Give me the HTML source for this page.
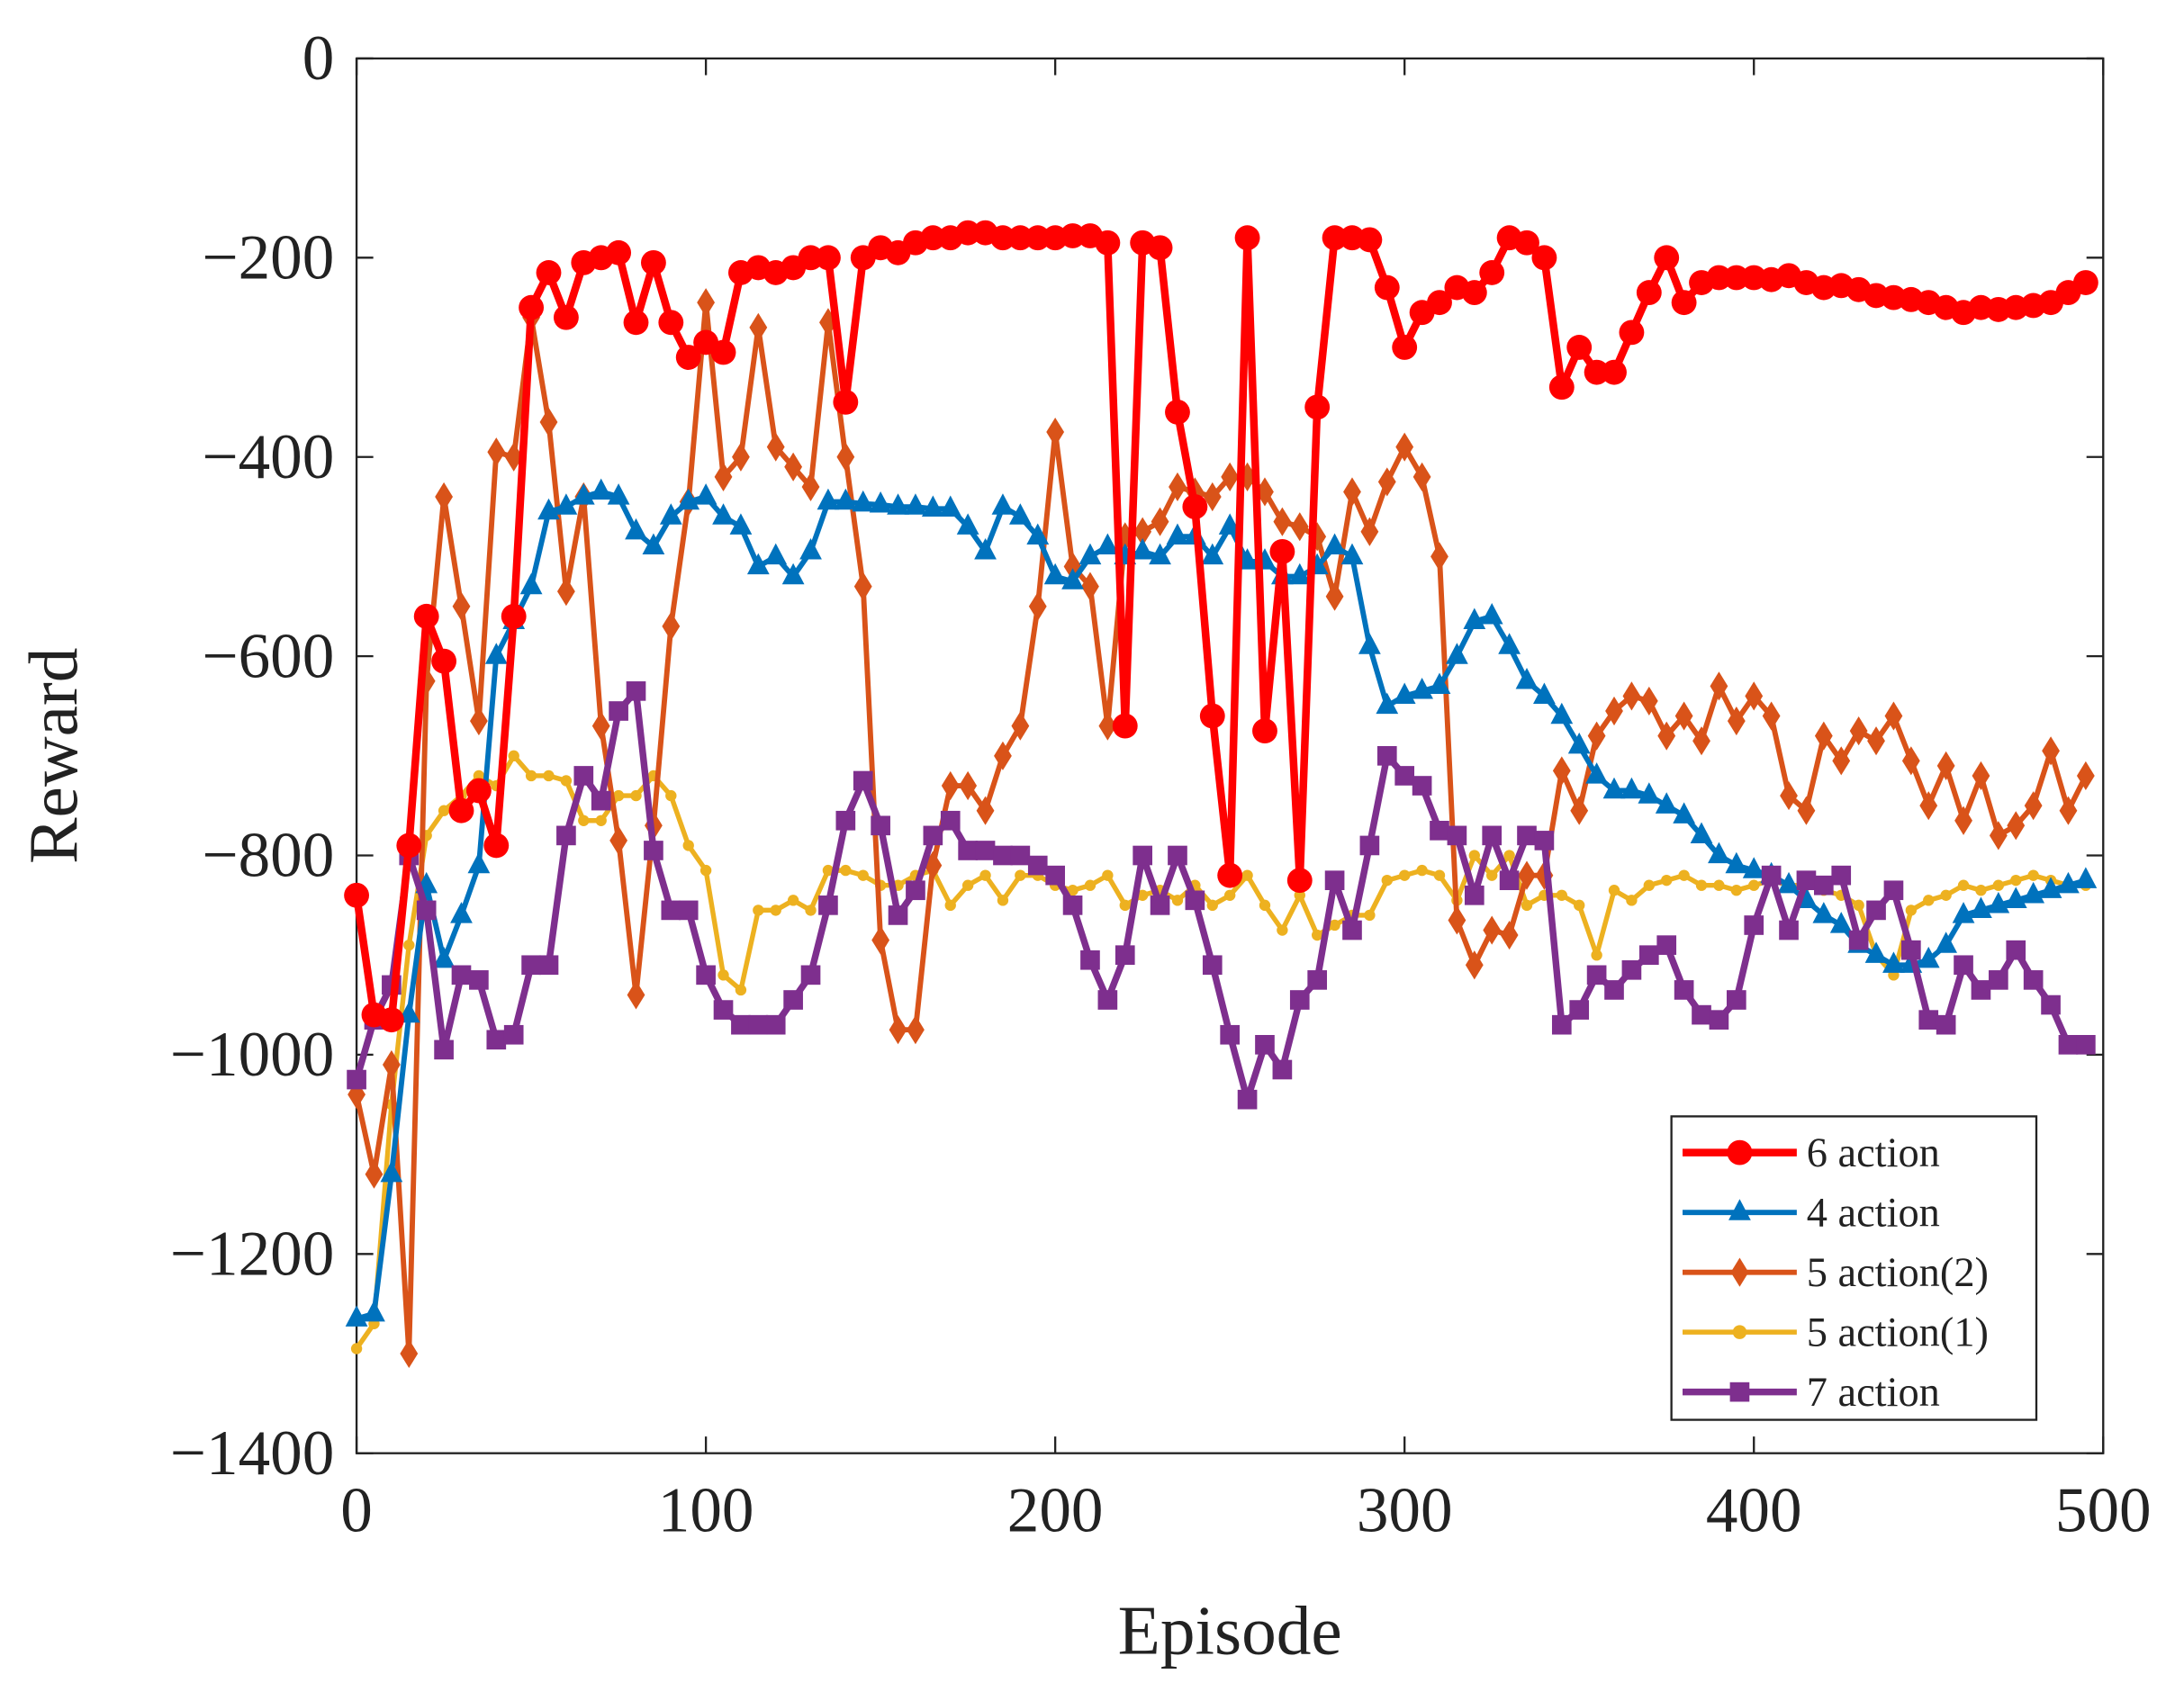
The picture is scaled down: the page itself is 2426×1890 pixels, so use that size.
<!DOCTYPE html>
<html><head><meta charset="utf-8"><style>
html,body{margin:0;padding:0;background:#fff;}
svg{display:block;}
text{font-family:"Liberation Serif",serif;fill:#222;}
</style></head><body>
<svg id="s" width="2426" height="1890" viewBox="0 0 1568 1222" preserveAspectRatio="none" xmlns="http://www.w3.org/2000/svg">
<rect x="256" y="42" width="1254" height="1002" fill="#fff" stroke="#222" stroke-width="1.5"/>
<g id="ticks" stroke="#222" stroke-width="1.5"></g>
<g id="lbl" font-size="46"></g>
<text x="883" y="1188" font-size="50" text-anchor="middle">Episode</text>
<text transform="translate(55,543) rotate(-90)" font-size="50" text-anchor="middle">Reward</text>
<g id="plot"></g>
<rect x="1200" y="802" width="262" height="218" fill="#fff" stroke="#222" stroke-width="1.5"/>
<g id="leg" font-size="30"></g>
</svg>
<script>
const NS="http://www.w3.org/2000/svg";
function el(p,t,a,txt){const e=document.createElementNS(NS,t);for(const k in a)e.setAttribute(k,a[k]);if(txt!==undefined)e.textContent=txt;p.appendChild(e);return e;}
const X=e=>256+e*2.508, Y=r=>42+(-r)*0.7157;
const tk=document.getElementById('ticks'),lb=document.getElementById('lbl');
for(let e=0;e<=500;e+=100){el(tk,'line',{x1:X(e),x2:X(e),y1:1044,y2:1032});el(tk,'line',{x1:X(e),x2:X(e),y1:42,y2:54});el(lb,'text',{x:X(e),y:1100,'text-anchor':'middle'},String(e));}
for(let r=0;r>=-1400;r-=200){el(tk,'line',{x1:256,x2:268,y1:Y(r),y2:Y(r)});el(tk,'line',{x1:1510,x2:1498,y1:Y(r),y2:Y(r)});el(lb,'text',{x:240,y:Y(r)+15,'text-anchor':'end'},r===0?'0':'\u2212'+(-r));}
const red=[-840,-960,-965,-790,-560,-605,-755,-735,-790,-560,-250,-215,-260,-205,-200,-195,-265,-205,-265,-300,-285,-295,-215,-210,-215,-210,-200,-200,-345,-200,-190,-195,-185,-180,-180,-175,-175,-180,-180,-180,-180,-178,-178,-185,-670,-185,-190,-355,-450,-660,-820,-180,-675,-495,-825,-350,-180,-180,-182,-230,-290,-255,-245,-230,-235,-215,-180,-185,-200,-330,-290,-315,-315,-275,-235,-200,-245,-225,-220,-220,-220,-222,-218,-225,-230,-228,-232,-238,-240,-242,-245,-250,-255,-250,-252,-250,-248,-245,-235,-225];
const blue=[-1265,-1260,-1120,-960,-830,-905,-860,-810,-600,-565,-530,-455,-450,-440,-435,-440,-475,-490,-460,-445,-440,-460,-470,-510,-500,-520,-495,-445,-445,-447,-448,-450,-450,-452,-452,-470,-495,-450,-460,-480,-520,-525,-500,-490,-500,-495,-500,-480,-480,-500,-470,-505,-505,-520,-520,-510,-490,-500,-590,-650,-640,-635,-630,-600,-565,-560,-590,-625,-640,-660,-690,-720,-735,-735,-740,-750,-760,-780,-800,-810,-815,-820,-830,-845,-860,-870,-890,-900,-910,-910,-905,-890,-860,-855,-850,-845,-840,-835,-830,-825];
const org=[-1040,-1120,-1010,-1300,-625,-440,-550,-665,-395,-400,-260,-365,-535,-440,-670,-785,-940,-770,-570,-445,-245,-420,-400,-270,-390,-410,-430,-265,-400,-530,-885,-975,-975,-810,-730,-730,-755,-700,-670,-550,-375,-510,-530,-670,-480,-475,-465,-430,-435,-440,-420,-420,-435,-465,-470,-480,-540,-435,-475,-425,-390,-420,-500,-865,-910,-875,-880,-820,-820,-715,-755,-680,-655,-640,-645,-680,-660,-685,-630,-665,-640,-660,-740,-755,-680,-705,-675,-685,-660,-705,-750,-710,-765,-720,-780,-770,-750,-695,-755,-720];
const yel=[-1295,-1270,-1050,-890,-780,-755,-740,-720,-730,-700,-720,-720,-725,-765,-765,-740,-740,-720,-740,-790,-815,-920,-935,-855,-855,-845,-855,-815,-815,-820,-830,-830,-820,-815,-850,-830,-820,-845,-820,-820,-830,-835,-830,-820,-850,-840,-835,-845,-830,-850,-840,-820,-850,-875,-840,-880,-870,-860,-860,-825,-820,-815,-820,-845,-800,-820,-800,-850,-840,-840,-850,-900,-835,-845,-830,-825,-820,-830,-830,-835,-830,-825,-830,-830,-835,-840,-850,-900,-920,-855,-845,-840,-830,-835,-830,-825,-820,-825,-830,-830];
const pur=[-1025,-965,-930,-800,-855,-995,-920,-925,-985,-980,-910,-910,-780,-720,-745,-655,-635,-795,-855,-855,-920,-955,-970,-970,-970,-945,-920,-850,-765,-725,-770,-860,-835,-780,-765,-795,-795,-800,-800,-810,-820,-850,-905,-945,-900,-800,-850,-800,-845,-910,-980,-1045,-990,-1015,-945,-925,-825,-875,-790,-700,-720,-730,-775,-780,-840,-780,-825,-780,-785,-970,-955,-920,-935,-915,-900,-890,-935,-960,-965,-945,-870,-820,-875,-825,-830,-820,-885,-855,-835,-895,-965,-970,-910,-935,-925,-895,-925,-950,-990,-990];
const pl=document.getElementById('plot');
function mk(g,type,x,y,c,s){
 if(type==='o')el(g,'circle',{cx:x,cy:y,r:s,fill:c});
 else if(type==='^')el(g,'polygon',{points:`${x},${y-s*1.2} ${x-s},${y+s*0.7} ${x+s},${y+s*0.7}`,fill:c});
 else if(type==='d')el(g,'polygon',{points:`${x},${y-s*1.3} ${x-s*0.8},${y} ${x},${y+s*1.3} ${x+s*0.8},${y}`,fill:c});
 else if(type==='s')el(g,'rect',{x:x-s,y:y-s,width:2*s,height:2*s,fill:c});
}
function series(d,c,w,type,s){
 const g=el(pl,'g',{});
 let p=d.map((r,i)=>(i?'L':'M')+X(i*5).toFixed(1)+','+Y(r).toFixed(1)).join('');
 el(g,'path',{d:p,fill:'none',stroke:c,'stroke-width':w,'stroke-linejoin':'round'});
 d.forEach((r,i)=>mk(g,type,X(i*5),Y(r),c,s));
}
series(yel,'#EDB120',3.5,'o',4);
series(org,'#D95319',3.8,'d',8);
series(blue,'#0072BD',3.8,'^',8);
series(pur,'#7E2F8E',4.8,'s',7);
series(red,'#FF0000',5.5,'o',9);
const lg=document.getElementById('leg');
[['6 action','#FF0000',5.5,'o',9],['4 action','#0072BD',3.8,'^',8],['5 action(2)','#D95319',3.8,'d',8],['5 action(1)','#EDB120',3.5,'o',5],['7 action','#7E2F8E',4.8,'s',7]].forEach((e,i)=>{
 const y=828+i*43;
 el(lg,'line',{x1:1208,x2:1290,y1:y,y2:y,stroke:e[1],'stroke-width':e[2]});
 mk(lg,e[3],1249,y,e[1],e[4]);
 el(lg,'text',{x:1297,y:y+10},e[0]);
});
</script>
</body></html>
